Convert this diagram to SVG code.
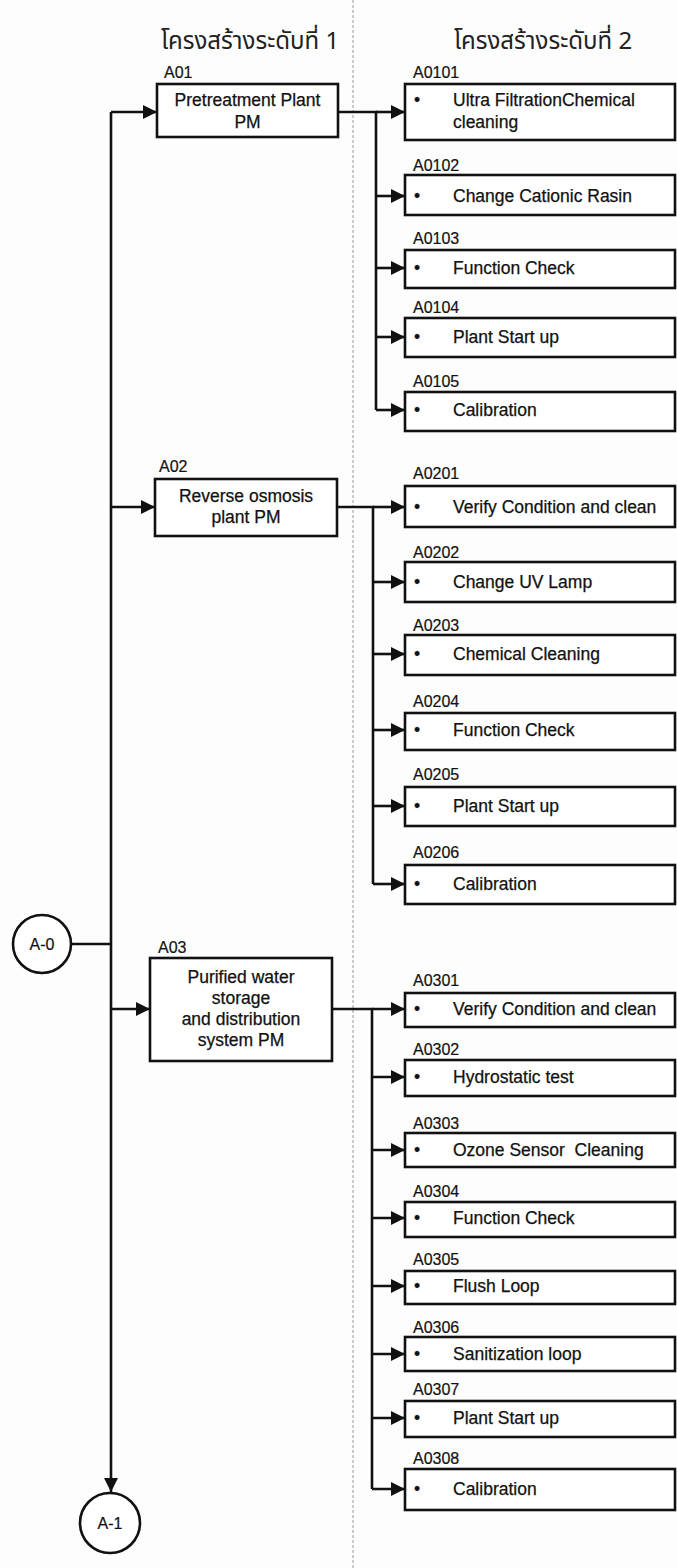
<svg xmlns="http://www.w3.org/2000/svg" width="677" height="1568" viewBox="0 0 677 1568">
<style>
.bg{fill:#fdfdfd}
.box{fill:#fff;stroke:#111;stroke-width:2.6}
.circ{fill:#fff;stroke:#111;stroke-width:2.6}
.ln{fill:none;stroke:#111;stroke-width:2.6}
.dash{stroke:#999;stroke-width:1;stroke-dasharray:3 2}
.t{font-family:"Liberation Sans",Arial,sans-serif;font-size:17.5px;fill:#111;stroke:#111;stroke-width:0.25;dominant-baseline:central}
.lbl{font-family:"Liberation Sans",Arial,sans-serif;font-size:16px;fill:#111;stroke:#111;stroke-width:0.2;dominant-baseline:central}
.c{text-anchor:middle}
.title{font-family:"Noto Sans Thai","Tahoma","DejaVu Sans","Noto Sans",sans-serif;font-size:24px;fill:#222;text-anchor:middle;dominant-baseline:central}
</style>
<defs>
<marker id="ah" markerUnits="userSpaceOnUse" markerWidth="14" markerHeight="14" viewBox="0 0 14 14" refX="14" refY="7" orient="auto">
<path d="M0,0 L14,7 L0,14 z" fill="#111"/>
</marker>
</defs>
<rect class="bg" x="0" y="0" width="677" height="1568"/>
<line class="dash" x1="353" y1="0" x2="353" y2="1568"/>
<text class="title" x="250" y="42">โครงสร้างระดับที่ 1</text>
<text class="title" x="543" y="42">โครงสร้างระดับที่ 2</text>

<g id="connectors">
<path class="ln" d="M111,112 V1492" marker-end="url(#ah)"/>
<path class="ln" d="M71,944 H111"/>
<path class="ln" d="M111,112 H157" marker-end="url(#ah)"/>
<path class="ln" d="M111,507 H155" marker-end="url(#ah)"/>
<path class="ln" d="M111,1009 H150" marker-end="url(#ah)"/>
<path class="ln" d="M338,112 H376 V410"/>
<path class="ln" d="M337,507 H373 V884"/>
<path class="ln" d="M332,1009 H372 V1489"/>
<path class="ln" d="M376,112 H405" marker-end="url(#ah)"/>
<path class="ln" d="M376,196 H405" marker-end="url(#ah)"/>
<path class="ln" d="M376,268 H405" marker-end="url(#ah)"/>
<path class="ln" d="M376,337 H405" marker-end="url(#ah)"/>
<path class="ln" d="M376,410 H405" marker-end="url(#ah)"/>
<path class="ln" d="M373,507 H405" marker-end="url(#ah)"/>
<path class="ln" d="M373,582 H405" marker-end="url(#ah)"/>
<path class="ln" d="M373,654 H405" marker-end="url(#ah)"/>
<path class="ln" d="M373,730 H405" marker-end="url(#ah)"/>
<path class="ln" d="M373,806 H405" marker-end="url(#ah)"/>
<path class="ln" d="M373,884 H405" marker-end="url(#ah)"/>
<path class="ln" d="M372,1009 H405" marker-end="url(#ah)"/>
<path class="ln" d="M372,1077 H405" marker-end="url(#ah)"/>
<path class="ln" d="M372,1150 H405" marker-end="url(#ah)"/>
<path class="ln" d="M372,1218 H405" marker-end="url(#ah)"/>
<path class="ln" d="M372,1286 H405" marker-end="url(#ah)"/>
<path class="ln" d="M372,1354 H405" marker-end="url(#ah)"/>
<path class="ln" d="M372,1418 H405" marker-end="url(#ah)"/>
<path class="ln" d="M372,1489 H405" marker-end="url(#ah)"/>
</g>

<g id="A-0"><circle class="circ" cx="42" cy="944" r="29"/><text class="lbl c" x="42" y="944">A-0</text></g>
<g id="A-1"><circle class="circ" cx="110" cy="1523" r="30"/><text class="lbl c" x="110" y="1523">A-1</text></g>

<g id="A01"><text class="lbl" x="164" y="72">A01</text><rect class="box" x="157" y="84" width="181" height="53"/><text class="t c" x="247.5" y="100">Pretreatment Plant</text><text class="t c" x="247.5" y="122">PM</text></g>
<g id="A02"><text class="lbl" x="159" y="466">A02</text><rect class="box" x="155" y="479" width="182" height="57"/><text class="t c" x="246" y="496">Reverse osmosis</text><text class="t c" x="246" y="517">plant PM</text></g>
<g id="A03"><text class="lbl" x="158" y="947">A03</text><rect class="box" x="150" y="958" width="182" height="103"/><text class="t c" x="241" y="977">Purified water</text><text class="t c" x="241" y="998">storage</text><text class="t c" x="241" y="1019">and distribution</text><text class="t c" x="241" y="1040">system PM</text></g>

<g id="A0101"><text class="lbl" x="413" y="72">A0101</text><rect class="box" x="405" y="84" width="270" height="56"/><text class="t" x="414" y="100">•</text><text class="t" x="453" y="100">Ultra FiltrationChemical</text><text class="t" x="453" y="122">cleaning</text></g>
<g id="A0102"><text class="lbl" x="413" y="165">A0102</text><rect class="box" x="405" y="175" width="270" height="40"/><text class="t" x="414" y="196">•</text><text class="t" x="453" y="196">Change Cationic Rasin</text></g>
<g id="A0103"><text class="lbl" x="413" y="238">A0103</text><rect class="box" x="405" y="250" width="270" height="38"/><text class="t" x="414" y="268">•</text><text class="t" x="453" y="268">Function Check</text></g>
<g id="A0104"><text class="lbl" x="413" y="307">A0104</text><rect class="box" x="405" y="318" width="270" height="39"/><text class="t" x="414" y="337">•</text><text class="t" x="453" y="337">Plant Start up</text></g>
<g id="A0105"><text class="lbl" x="413" y="381">A0105</text><rect class="box" x="405" y="392" width="270" height="39"/><text class="t" x="414" y="410">•</text><text class="t" x="453" y="410">Calibration</text></g>

<g id="A0201"><text class="lbl" x="413" y="473">A0201</text><rect class="box" x="405" y="486" width="270" height="41"/><text class="t" x="414" y="507">•</text><text class="t" x="453" y="507">Verify Condition and clean</text></g>
<g id="A0202"><text class="lbl" x="413" y="552">A0202</text><rect class="box" x="405" y="562" width="270" height="40"/><text class="t" x="414" y="582">•</text><text class="t" x="453" y="582">Change UV Lamp</text></g>
<g id="A0203"><text class="lbl" x="413" y="625">A0203</text><rect class="box" x="405" y="635" width="270" height="40"/><text class="t" x="414" y="654">•</text><text class="t" x="453" y="654">Chemical Cleaning</text></g>
<g id="A0204"><text class="lbl" x="413" y="701">A0204</text><rect class="box" x="405" y="713" width="270" height="37"/><text class="t" x="414" y="730">•</text><text class="t" x="453" y="730">Function Check</text></g>
<g id="A0205"><text class="lbl" x="413" y="774">A0205</text><rect class="box" x="405" y="787" width="270" height="39"/><text class="t" x="414" y="806">•</text><text class="t" x="453" y="806">Plant Start up</text></g>
<g id="A0206"><text class="lbl" x="413" y="852">A0206</text><rect class="box" x="405" y="865" width="270" height="39"/><text class="t" x="414" y="884">•</text><text class="t" x="453" y="884">Calibration</text></g>

<g id="A0301"><text class="lbl" x="413" y="980">A0301</text><rect class="box" x="405" y="993" width="270" height="34"/><text class="t" x="414" y="1009">•</text><text class="t" x="453" y="1009">Verify Condition and clean</text></g>
<g id="A0302"><text class="lbl" x="413" y="1049">A0302</text><rect class="box" x="405" y="1060" width="270" height="36"/><text class="t" x="414" y="1077">•</text><text class="t" x="453" y="1077">Hydrostatic test</text></g>
<g id="A0303"><text class="lbl" x="413" y="1123">A0303</text><rect class="box" x="405" y="1133" width="270" height="34"/><text class="t" x="414" y="1150">•</text><text class="t" x="453" y="1150" xml:space="preserve">Ozone Sensor  Cleaning</text></g>
<g id="A0304"><text class="lbl" x="413" y="1191">A0304</text><rect class="box" x="405" y="1202" width="270" height="35"/><text class="t" x="414" y="1218">•</text><text class="t" x="453" y="1218">Function Check</text></g>
<g id="A0305"><text class="lbl" x="413" y="1259">A0305</text><rect class="box" x="405" y="1271" width="270" height="33"/><text class="t" x="414" y="1286">•</text><text class="t" x="453" y="1286">Flush Loop</text></g>
<g id="A0306"><text class="lbl" x="413" y="1327">A0306</text><rect class="box" x="405" y="1337" width="270" height="34"/><text class="t" x="414" y="1354">•</text><text class="t" x="453" y="1354">Sanitization loop</text></g>
<g id="A0307"><text class="lbl" x="413" y="1389">A0307</text><rect class="box" x="405" y="1401" width="270" height="36"/><text class="t" x="414" y="1418">•</text><text class="t" x="453" y="1418">Plant Start up</text></g>
<g id="A0308"><text class="lbl" x="413" y="1458">A0308</text><rect class="box" x="405" y="1469" width="270" height="41"/><text class="t" x="414" y="1489">•</text><text class="t" x="453" y="1489">Calibration</text></g>
</svg>
